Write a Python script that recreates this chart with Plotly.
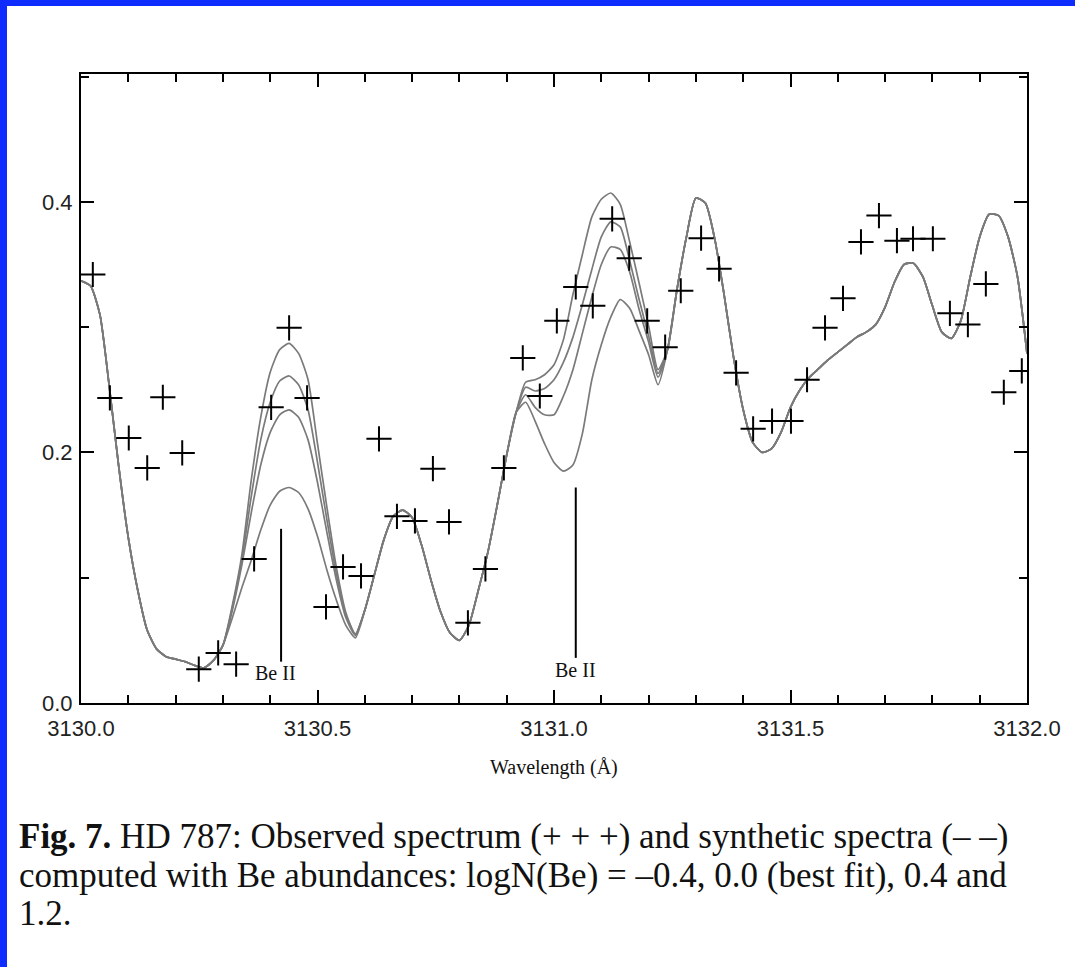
import plotly.graph_objects as go

# ---------------- data ----------------
obs_wavelength = [3130.025, 3130.061, 3130.101, 3130.140, 3130.173, 3130.214, 3130.249, 3130.290,
                  3130.328, 3130.366, 3130.402, 3130.440, 3130.478, 3130.518, 3130.554, 3130.592,
                  3130.630, 3130.668, 3130.706, 3130.744, 3130.778, 3130.818, 3130.855, 3130.894,
                  3130.934, 3130.970, 3131.006, 3131.046, 3131.082, 3131.123, 3131.159, 3131.197,
                  3131.235, 3131.268, 3131.311, 3131.349, 3131.385, 3131.421, 3131.461, 3131.501,
                  3131.535, 3131.573, 3131.611, 3131.649, 3131.687, 3131.725, 3131.759, 3131.801,
                  3131.837, 3131.875, 3131.913, 3131.951, 3131.989]
obs_flux = [0.342, 0.2435, 0.2115, 0.1876, 0.244, 0.1996, 0.027, 0.040,
            0.031, 0.115, 0.236, 0.2994, 0.2435, 0.0767, 0.1086, 0.1014,
            0.2108, 0.149, 0.1453, 0.187, 0.1445, 0.064, 0.107, 0.1876,
            0.2754, 0.245, 0.305, 0.332, 0.317, 0.3864, 0.355, 0.305,
            0.284, 0.329, 0.371, 0.3465, 0.2635, 0.2188, 0.225, 0.225,
            0.258, 0.2994, 0.323, 0.368, 0.389, 0.369, 0.3705, 0.3705,
            0.311, 0.302, 0.3345, 0.248, 0.265]

synth_wavelength = [
    3130.00, 3130.02, 3130.04, 3130.06, 3130.08, 3130.10, 3130.12, 3130.14, 3130.16, 3130.18,
    3130.20, 3130.22, 3130.24, 3130.26, 3130.28, 3130.30, 3130.32, 3130.34, 3130.36, 3130.38,
    3130.40, 3130.42, 3130.44, 3130.46, 3130.48, 3130.50, 3130.52, 3130.54, 3130.56, 3130.58,
    3130.60, 3130.62, 3130.64, 3130.66, 3130.68, 3130.70, 3130.72, 3130.74, 3130.76, 3130.78,
    3130.80, 3130.82, 3130.84, 3130.86, 3130.88, 3130.90, 3130.92, 3130.94, 3130.96, 3130.98,
    3131.00, 3131.02, 3131.04, 3131.06, 3131.08, 3131.10, 3131.12, 3131.14, 3131.16, 3131.18,
    3131.20, 3131.22, 3131.24, 3131.26, 3131.28, 3131.30, 3131.32, 3131.34, 3131.36, 3131.38,
    3131.40, 3131.42, 3131.44, 3131.46, 3131.48, 3131.50, 3131.52, 3131.54, 3131.56, 3131.58,
    3131.60, 3131.62, 3131.64, 3131.66, 3131.68, 3131.70, 3131.72, 3131.74, 3131.76, 3131.78,
    3131.80, 3131.82, 3131.84, 3131.86, 3131.88, 3131.90, 3131.92, 3131.94, 3131.96, 3131.98,
    3132.00]

# parts shared by all synthetic spectra
common_left = [0.337, 0.333, 0.310, 0.252, 0.188, 0.132, 0.090, 0.058, 0.043, 0.037,
               0.035, 0.033, 0.030, 0.028, 0.034, 0.046]                       # 3130.00-3130.30
common_mid = [0.074, 0.102, 0.130, 0.149, 0.154, 0.148, 0.126, 0.098, 0.073, 0.056,
              0.050, 0.062, 0.090, 0.120, 0.158, 0.198, 0.232]                 # 3130.60-3130.92
common_right = [0.282, 0.330, 0.372, 0.403, 0.399, 0.370, 0.325, 0.275, 0.234, 0.208,
                0.200, 0.203, 0.216, 0.236, 0.250, 0.260, 0.267, 0.274, 0.280, 0.286,
                0.292, 0.296, 0.302, 0.316, 0.336, 0.350, 0.351, 0.340, 0.317, 0.296,
                0.291, 0.305, 0.340, 0.372, 0.390, 0.389, 0.372, 0.340, 0.279]  # 3131.24-3132.00

# Be II line regions, logN(Be) = -0.4, 0.0, 0.4, 1.2
line1_m04 = [0.078, 0.118, 0.178, 0.228, 0.264, 0.282, 0.287, 0.279, 0.258, 0.207, 0.156, 0.108, 0.072, 0.055]
line1_p00 = [0.076, 0.114, 0.165, 0.210, 0.240, 0.257, 0.261, 0.254, 0.234, 0.192, 0.146, 0.103, 0.070, 0.055]
line1_p04 = [0.074, 0.110, 0.152, 0.190, 0.216, 0.230, 0.234, 0.228, 0.210, 0.176, 0.136, 0.098, 0.068, 0.054]
line1_p12 = [0.068, 0.092, 0.114, 0.138, 0.158, 0.169, 0.172, 0.168, 0.155, 0.133, 0.106, 0.082, 0.062, 0.052]

line2_m04 = [0.256, 0.258, 0.262, 0.270, 0.290, 0.326, 0.358, 0.388, 0.402, 0.407, 0.398, 0.368, 0.335, 0.301, 0.266]
line2_p00 = [0.252, 0.249, 0.251, 0.258, 0.272, 0.292, 0.318, 0.346, 0.372, 0.384, 0.380, 0.353, 0.322, 0.293, 0.263]
line2_p04 = [0.246, 0.236, 0.230, 0.230, 0.245, 0.266, 0.295, 0.324, 0.350, 0.364, 0.362, 0.344, 0.314, 0.288, 0.260]
line2_p12 = [0.240, 0.225, 0.207, 0.192, 0.185, 0.190, 0.215, 0.258, 0.286, 0.308, 0.322, 0.315, 0.297, 0.278, 0.254]

abundances = ["-0.4", "0.0", "0.4", "1.2"]
be_line_wavelength = [3130.423, 3131.046]
be_line_top = [0.139, 0.172]
be_line_bottom = [0.033, 0.036]
be_label = ["Be II", "Be II"]
be_label_x = [3130.412, 3131.046]
be_label_y = [0.024, 0.026]

x_tickvals = [3130.0, 3130.5, 3131.0, 3131.5, 3132.0]
y_tickvals = [0.0, 0.2, 0.4]

caption_lines = [
    "<b>Fig. 7.</b> HD 787: Observed spectrum (+ + +) and synthetic spectra (– –)",
    "computed with Be abundances: logN(Be) = –0.4, 0.0 (best fit), 0.4 and",
    "1.2.",
]

# ---------------- figure ----------------
fig = go.Figure()

line_parts = [(line1_m04, line2_m04), (line1_p00, line2_p00), (line1_p04, line2_p04), (line1_p12, line2_p12)]
for ab, (l1, l2) in zip(abundances, line_parts):
    flux = common_left + l1 + common_mid + l2 + common_right
    fig.add_trace(go.Scatter(
        x=synth_wavelength, y=flux, mode="lines", name="logN(Be) = " + ab,
        line=dict(color="#7a7a7a", width=1.7, shape="spline", smoothing=0.6),
        showlegend=False, hoverinfo="skip"))

fig.add_trace(go.Scatter(
    x=obs_wavelength, y=obs_flux, mode="markers", name="observed",
    marker=dict(symbol="cross-thin", size=18, line=dict(color="black", width=2)),
    showlegend=False))

# Be II markers
for xv, y0, y1 in zip(be_line_wavelength, be_line_bottom, be_line_top):
    fig.add_shape(type="line", xref="x", yref="y", x0=xv, x1=xv, y0=y0, y1=y1,
                  line=dict(color="black", width=2))
for txt, xv, yv in zip(be_label, be_label_x, be_label_y):
    fig.add_annotation(x=xv, y=yv, xref="x", yref="y", text=txt, showarrow=False,
                       font=dict(family="Liberation Serif", size=20, color="#111"),
                       xanchor="center", yanchor="middle")

L, R, T, B = 81, 48, 74, 264
W, H = 1075, 967
pw, ph = W - L - R, H - T - B


def px_x(px):
    return (px - L) / pw


def px_y(py):
    return (H - B - py) / ph


# x axis title
fig.add_annotation(x=0.5, y=px_y(767), xref="paper", yref="paper", text="Wavelength (Å)",
                   showarrow=False, font=dict(family="Liberation Serif", size=20, color="#111"),
                   xanchor="center", yanchor="middle")

# caption
for i, (txt, cy) in enumerate(zip(caption_lines, [836, 875, 913])):
    fig.add_annotation(x=px_x(17), y=px_y(cy), xref="paper", yref="paper", text=txt,
                       showarrow=False, font=dict(family="Liberation Serif", size=35, color="#111"),
                       xanchor="left", yanchor="middle", align="left")

# blue border
blue = "#0f2cff"
fig.add_shape(type="rect", xref="paper", yref="paper", x0=px_x(0), x1=px_x(7), y0=px_y(H), y1=px_y(0),
              fillcolor=blue, line=dict(width=0), layer="below")
fig.add_shape(type="rect", xref="paper", yref="paper", x0=px_x(0), x1=px_x(W), y0=px_y(6), y1=px_y(0),
              fillcolor=blue, line=dict(width=0), layer="below")

axis_common = dict(showgrid=False, zeroline=False, showline=True, linecolor="black", linewidth=2,
                   mirror="ticks", ticks="inside", tickcolor="black", tickwidth=2, ticklen=13,
                   tickfont=dict(family="Liberation Sans", size=22, color="#222"))

fig.update_xaxes(range=[3130.0, 3132.0], tickvals=x_tickvals, ticktext=[f"{v:.1f}" for v in x_tickvals],
                 ticklabelstandoff=5,
                 minor=dict(dtick=0.1, tick0=3130.0, ticks="inside", ticklen=8, tickwidth=2, tickcolor="black"),
                 **axis_common)
fig.update_yaxes(range=[0.0, 0.502], tickvals=y_tickvals, ticktext=[f"{v:.1f}" for v in y_tickvals],
                 ticklabelstandoff=2,
                 minor=dict(dtick=0.1, tick0=0.0, ticks="inside", ticklen=8, tickwidth=2, tickcolor="black"),
                 **axis_common)

fig.update_layout(width=W, height=H, margin=dict(l=L, r=R, t=T, b=B, pad=0),
                  paper_bgcolor="white", plot_bgcolor="white", showlegend=False)

fig.write_html("out.html")
